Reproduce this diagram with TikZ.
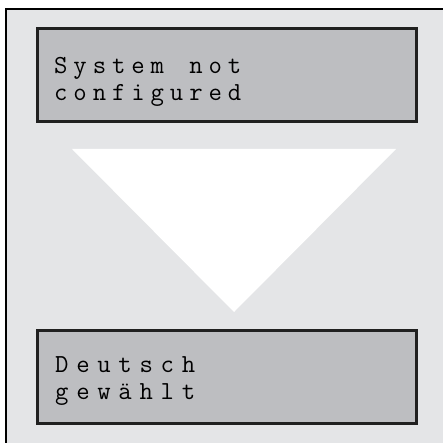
\documentclass[tikz,border=0pt]{standalone}
\usepackage{fontspec}
\usetikzlibrary{calc}

\definecolor{panelgray}{HTML}{E4E5E7}
\definecolor{lcdgray}{HTML}{BDBEC1}
\definecolor{lcdedge}{HTML}{202020}

% Fixed-pitch character spacing for the display lines
\newcommand\lcdtext[2]{\def\lcdpitch{#1}\lcdloop#2\relax}
\def\lcdloop#1{\ifx#1\relax\else\makebox[\lcdpitch][l]{#1}\expandafter\lcdloop\fi}

\tikzset{
  lcdbox/.style={draw=lcdedge, line width=3.5pt, fill=lcdgray,
    minimum width=378.6pt, minimum height=92.6pt, inner sep=0pt},
  lcdline/.style={anchor=base west, inner sep=0pt,
    font=\ttfamily\fontsize{26}{30}\selectfont, text=black},
}

\begin{document}
\begin{tikzpicture}[x=1pt,y=-1pt]
  \useasboundingbox (0,0) rectangle (443,443);
  \clip (0,0) rectangle (443,443);

  % outer panel
  \fill[white] (0,0) rectangle (443,443);
  \draw[line width=2.5pt, fill=panelgray] (6,9) rectangle (460,460);

  % display boxes
  \node[lcdbox] (upper) at (227,75) {};
  \node[lcdbox] (lower) at (227,377) {};

  % downward arrow between the displays
  \coordinate (tl) at (72,149);
  \coordinate (tr) at (396,149);
  \coordinate (tip) at (234,312);
  \fill[white] (tl) -- (tr) -- (tip) -- cycle;

  % display texts
  \node[lcdline] (u1) at (54,74) {\lcdtext{19.3pt}{System~not}};
  \node[lcdline] (u2) at (54,101) {\lcdtext{19.3pt}{configured}};
  \node[lcdline] (l1) at (55,372.5) {\lcdtext{21.1pt}{Deutsch}};
  \node[lcdline] (l2) at (55,399) {\lcdtext{21.1pt}{gewählt}};
\end{tikzpicture}
\end{document}
